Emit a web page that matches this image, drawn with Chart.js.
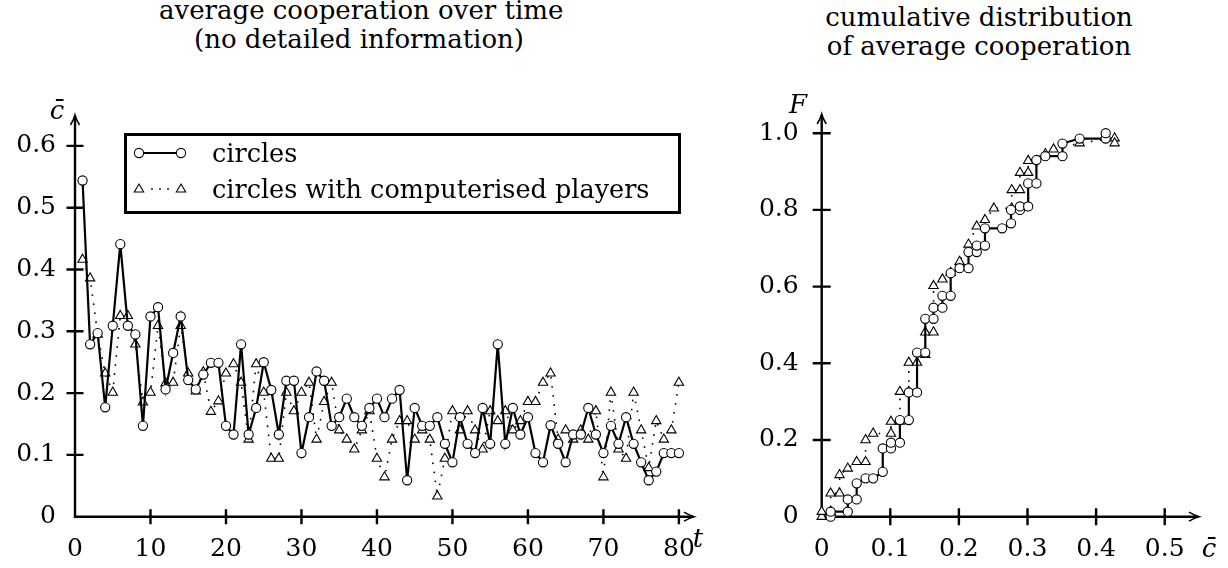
<!DOCTYPE html>
<html>
<head>
<meta charset="utf-8">
<script src="https://cdn.jsdelivr.net/npm/chart.js@4.4.0/dist/chart.umd.min.js"></script>
<style>
  body { margin: 0; background: #fff; width: 1228px; height: 568px; overflow: hidden; position: relative; font-family: "DejaVu Serif", serif; color: #000; }
  canvas { position: absolute; top: 0; }
  .title { position: absolute; text-align: center; font-size: 26px; line-height: 29px; white-space: nowrap; }
  .lab { position: absolute; font-style: italic; font-size: 26px; line-height: 26px; transform: translate(-50%, -50%); }
  #legend { position: absolute; left: 124px; top: 133px; width: 557px; height: 81px; border: 3px solid #000; box-sizing: border-box; }
  #legend .row { position: absolute; left: 85px; font-size: 25.5px; line-height: 30px; white-space: nowrap; }
  #legend svg { position: absolute; left: 0; top: 0; }
</style>
</head>
<body>
<div class="title" style="left:159px; top:-4px; width:400px">average cooperation over time<br>(no detailed information)</div>
<div class="title" style="left:779px; top:3px; width:400px">cumulative distribution<br>of average cooperation</div>

<canvas id="timeChart" width="730" height="568" style="left:0"></canvas>
<canvas id="cdfChart" width="468" height="568" style="left:760px"></canvas>

<div class="lab" style="left:57px; top:110px">c&#772;</div>
<div class="lab" style="left:698px; top:538px">t</div>
<div class="lab" style="left:798px; top:104px">F</div>
<div class="lab" style="left:1209px; top:548px">c&#772;</div>

<div id="legend">
  <svg width="90" height="81">
    <line x1="12" y1="17" x2="54" y2="17" stroke="#000" stroke-width="2.2"/>
    <circle cx="12" cy="17" r="4.6" fill="#fff" stroke="#000" stroke-width="1.1"/>
    <circle cx="54" cy="17" r="4.6" fill="#fff" stroke="#000" stroke-width="1.1"/>
    <circle cx="25" cy="53" r="0.9" fill="#000"/>
    <circle cx="33" cy="53" r="0.9" fill="#000"/>
    <circle cx="41" cy="53" r="0.9" fill="#000"/>
    <polygon points="12,48 16.7,56 7.3,56" fill="#fff" stroke="#000" stroke-width="1.1"/>
    <polygon points="54,48 58.7,56 49.3,56" fill="#fff" stroke="#000" stroke-width="1.1"/>
  </svg>
  <div class="row" style="top:2px">circles</div>
  <div class="row" style="top:38px">circles with computerised players</div>
</div>

<script>
// rounds t (left panel)
const rounds = [1, 2, 3, 4, 5, 6, 7, 8, 9, 10, 11, 12, 13, 14, 15, 16, 17, 18, 19, 20,
  21, 22, 23, 24, 25, 26, 27, 28, 29, 30, 31, 32, 33, 34, 35, 36, 37, 38, 39, 40,
  41, 42, 43, 44, 45, 46, 47, 48, 49, 50, 51, 52, 53, 54, 55, 56, 57, 58, 59, 60,
  61, 62, 63, 64, 65, 66, 67, 68, 69, 70, 71, 72, 73, 74, 75, 76, 77, 78, 79, 80];

// average cooperation, "circles"
const coopCircles = [0.544, 0.279, 0.297, 0.177, 0.309, 0.441, 0.309, 0.295, 0.147, 0.324,
  0.339, 0.206, 0.265, 0.324, 0.221, 0.206, 0.230, 0.249, 0.249, 0.147,
  0.133, 0.279, 0.133, 0.176, 0.250, 0.205, 0.133, 0.220, 0.220, 0.103,
  0.161, 0.235, 0.220, 0.147, 0.161, 0.191, 0.161, 0.147, 0.176, 0.191,
  0.161, 0.191, 0.205, 0.059, 0.176, 0.147, 0.147, 0.161, 0.118, 0.088,
  0.161, 0.118, 0.103, 0.176, 0.118, 0.279, 0.118, 0.176, 0.133, 0.161,
  0.103, 0.088, 0.148, 0.118, 0.088, 0.133, 0.133, 0.176, 0.133, 0.103,
  0.147, 0.118, 0.161, 0.118, 0.088, 0.059, 0.073, 0.103, 0.103, 0.103];

// average cooperation, "circles with computerised players"
const coopComputer = [0.416, 0.386, 0.295, 0.232, 0.201, 0.325, 0.325, 0.279, 0.185, 0.201,
  0.309, 0.216, 0.217, 0.309, 0.232, 0.203, 0.234, 0.170, 0.187, 0.232,
  0.247, 0.217, 0.125, 0.247, 0.201, 0.094, 0.094, 0.201, 0.171, 0.201,
  0.217, 0.125, 0.186, 0.217, 0.140, 0.125, 0.109, 0.140, 0.171, 0.094,
  0.064, 0.125, 0.155, 0.155, 0.125, 0.140, 0.125, 0.033, 0.094, 0.171,
  0.140, 0.171, 0.140, 0.109, 0.171, 0.155, 0.171, 0.140, 0.155, 0.186,
  0.186, 0.217, 0.232, 0.125, 0.140, 0.125, 0.140, 0.125, 0.171, 0.064,
  0.201, 0.109, 0.094, 0.201, 0.140, 0.079, 0.155, 0.125, 0.140, 0.217];

// cumulative distribution (right panel), points in drawing order
const cdfCirclesC = [0.013, 0.013, 0.038, 0.038, 0.051, 0.051, 0.064, 0.075, 0.089, 0.089,
  0.101, 0.101, 0.114, 0.114, 0.127, 0.127, 0.139, 0.139, 0.151, 0.151,
  0.163, 0.163, 0.176, 0.176, 0.188, 0.188, 0.201, 0.214, 0.214, 0.226,
  0.226, 0.238, 0.238, 0.263, 0.276, 0.276, 0.289, 0.289, 0.301, 0.301,
  0.313, 0.313, 0.326, 0.351, 0.351, 0.376, 0.414, 0.414];
const cdfCirclesF = [0.000, 0.013, 0.013, 0.045, 0.045, 0.087, 0.100, 0.100, 0.117, 0.178,
  0.178, 0.193, 0.193, 0.252, 0.252, 0.324, 0.324, 0.428, 0.428, 0.516,
  0.516, 0.545, 0.545, 0.576, 0.576, 0.635, 0.648, 0.648, 0.690, 0.690,
  0.707, 0.707, 0.752, 0.752, 0.765, 0.800, 0.800, 0.809, 0.809, 0.869,
  0.869, 0.930, 0.940, 0.940, 0.973, 0.986, 0.986, 1.000];

const cdfComputerC = [0.000, 0.000, 0.013, 0.013, 0.026, 0.026, 0.038, 0.051, 0.064, 0.064,
  0.075, 0.101, 0.101, 0.114, 0.114, 0.127, 0.127, 0.139, 0.151, 0.151,
  0.163, 0.163, 0.176, 0.188, 0.201, 0.214, 0.226, 0.238, 0.251, 0.277,
  0.277, 0.289, 0.289, 0.301, 0.301, 0.326, 0.338, 0.376, 0.427, 0.427];
const cdfComputerF = [0.000, 0.013, 0.013, 0.061, 0.061, 0.109, 0.126, 0.143, 0.143, 0.200,
  0.217, 0.217, 0.248, 0.248, 0.326, 0.326, 0.402, 0.402, 0.422, 0.481,
  0.481, 0.602, 0.619, 0.636, 0.665, 0.710, 0.757, 0.774, 0.804, 0.804,
  0.852, 0.852, 0.897, 0.897, 0.928, 0.946, 0.958, 0.974, 0.987, 0.974];

// tick labels
const timeTicksX = [0, 10, 20, 30, 40, 50, 60, 70, 80];
const timeTicksY = [0, 0.1, 0.2, 0.3, 0.4, 0.5, 0.6];
const timeLabelsY = ["0", "0.1", "0.2", "0.3", "0.4", "0.5", "0.6"];
const cdfTicksX = [0, 0.1, 0.2, 0.3, 0.4, 0.5];
const cdfLabelsX = ["0", "0.1", "0.2", "0.3", "0.4", "0.5"];
const cdfTicksY = [0, 0.2, 0.4, 0.6, 0.8, 1.0];
const cdfLabelsY = ["0", "0.2", "0.4", "0.6", "0.8", "1.0"];

// оси в стиле LaTeX: стрелки и засечки через ось
const texAxes = {
  id: "texAxes",
  beforeDatasetsDraw(chart, args, opts) {
    const { ctx, chartArea } = chart;
    const x = chart.scales.x;
    const y = chart.scales.y;
    const ox = x.getPixelForValue(0);
    const oy = y.getPixelForValue(0);
    const r = chartArea.right;
    const t = chartArea.top;
    ctx.save();
    ctx.strokeStyle = "#000";
    ctx.lineWidth = 2.4;
    ctx.beginPath();
    ctx.moveTo(ox - 1.2, oy);
    ctx.lineTo(r - 1, oy);
    ctx.moveTo(ox, oy + 1.2);
    ctx.lineTo(ox, t + 1);
    x.ticks.forEach((tk) => {
      if (tk.value === 0) return;
      const px = x.getPixelForValue(tk.value);
      ctx.moveTo(px, oy - opts.xTick);
      ctx.lineTo(px, oy + opts.xTick);
    });
    y.ticks.forEach((tk) => {
      if (tk.value === 0) return;
      const py = y.getPixelForValue(tk.value);
      ctx.moveTo(ox - opts.yTick, py);
      ctx.lineTo(ox + opts.yTick, py);
    });
    ctx.stroke();
    ctx.lineWidth = 1.5;
    ctx.beginPath();
    ctx.moveTo(r - 10, oy - 4.5);
    ctx.quadraticCurveTo(r - 4, oy - 1, r, oy);
    ctx.quadraticCurveTo(r - 4, oy + 1, r - 10, oy + 4.5);
    ctx.moveTo(ox - 4.5, t + 10);
    ctx.quadraticCurveTo(ox - 1, t + 4, ox, t);
    ctx.quadraticCurveTo(ox + 1, t + 4, ox + 4.5, t + 10);
    ctx.stroke();
    ctx.restore();
  },
};

const tickFont = { family: "DejaVu Serif", size: 25 };

function fixedTicks(values) {
  return function (scale) {
    scale.ticks = values.map((v) => ({ value: v }));
  };
}

function circleSet(label, data) {
  return {
    label: label,
    data: data,
    borderColor: "#000",
    borderWidth: 2.2,
    pointStyle: "circle",
    pointRadius: 4.6,
    pointHoverRadius: 4.6,
    pointBorderWidth: 1.1,
    pointBackgroundColor: "#fff",
    pointBorderColor: "#000",
    tension: 0,
    clip: false,
  };
}

function triangleSet(label, data) {
  return {
    label: label,
    data: data,
    borderColor: "#000",
    borderWidth: 1.6,
    borderDash: [1.6, 7.5],
    pointStyle: "triangle",
    pointRadius: 5.4,
    pointHoverRadius: 5.4,
    pointBorderWidth: 1.1,
    pointBackgroundColor: "#fff",
    pointBorderColor: "#000",
    tension: 0,
    clip: false,
  };
}

// Average cooperation over time
new Chart(document.getElementById("timeChart"), {
  type: "line",
  plugins: [texAxes],
  data: {
    datasets: [
      circleSet("circles", rounds.map((t, i) => ({ x: t, y: coopCircles[i] }))),
      triangleSet("circles with computerised players", rounds.map((t, i) => ({ x: t, y: coopComputer[i] }))),
    ],
  },
  options: {
    responsive: false,
    animation: false,
    events: [],
    layout: { padding: { top: 115, right: 36, left: 0, bottom: 0 } },
    plugins: {
      legend: { display: false },
      tooltip: { enabled: false },
      texAxes: { xTick: 7.5, yTick: 8.5 },
    },
    scales: {
      x: {
        type: "linear",
        min: 0,
        max: 82,
        afterBuildTicks: fixedTicks(timeTicksX),
        afterFit: (scale) => { scale.height = 51.3; },
        grid: { display: false, drawTicks: false },
        border: { display: false },
        ticks: { font: tickFont, color: "#000", padding: 18, maxRotation: 0, autoSkip: false },
      },
      y: {
        min: 0,
        max: 0.65,
        afterBuildTicks: fixedTicks(timeTicksY),
        afterFit: (scale) => { scale.width = 75; },
        grid: { display: false, drawTicks: false },
        border: { display: false },
        ticks: {
          font: tickFont,
          color: "#000",
          padding: 19,
          autoSkip: false,
          callback: (value, index) => timeLabelsY[index],
        },
      },
    },
  },
});

// Cumulative distribution of average cooperation
new Chart(document.getElementById("cdfChart"), {
  type: "line",
  plugins: [texAxes],
  data: {
    datasets: [
      circleSet("circles", cdfCirclesC.map((c, i) => ({ x: c, y: cdfCirclesF[i] }))),
      triangleSet("circles with computerised players", cdfComputerC.map((c, i) => ({ x: c, y: cdfComputerF[i] }))),
    ],
  },
  options: {
    responsive: false,
    animation: false,
    events: [],
    layout: { padding: { top: 114, right: 29, left: 0, bottom: 0 } },
    plugins: {
      legend: { display: false },
      tooltip: { enabled: false },
      texAxes: { xTick: 8.5, yTick: 9 },
    },
    scales: {
      x: {
        type: "linear",
        min: 0,
        max: 0.55,
        afterBuildTicks: fixedTicks(cdfTicksX),
        afterFit: (scale) => { scale.height = 51.3; },
        grid: { display: false, drawTicks: false },
        border: { display: false },
        ticks: {
          font: tickFont,
          color: "#000",
          padding: 18,
          maxRotation: 0,
          autoSkip: false,
          callback: (value, index) => cdfLabelsX[index],
        },
      },
      y: {
        min: 0,
        max: 1.05,
        afterBuildTicks: fixedTicks(cdfTicksY),
        afterFit: (scale) => { scale.width = 61.7; },
        grid: { display: false, drawTicks: false },
        border: { display: false },
        ticks: {
          font: tickFont,
          color: "#000",
          padding: 23,
          autoSkip: false,
          callback: (value, index) => cdfLabelsY[index],
        },
      },
    },
  },
});
</script>
</body>
</html>
